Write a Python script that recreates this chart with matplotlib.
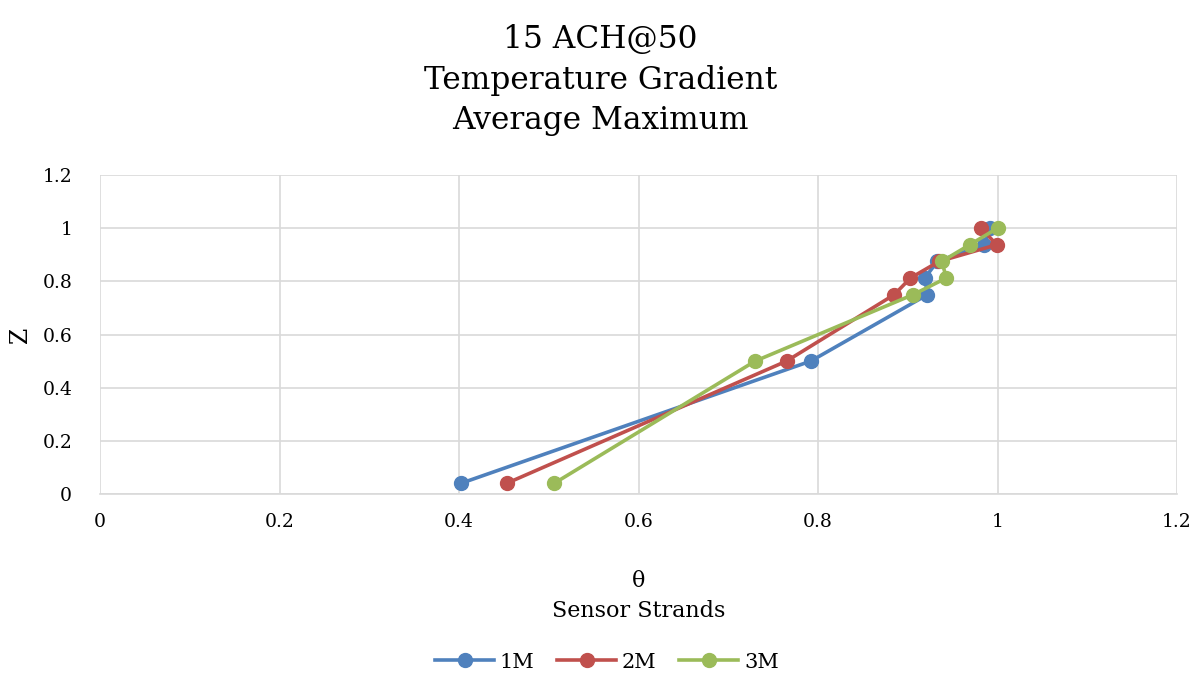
import matplotlib.pyplot as plt

# Average maximum temperature gradient, theta vs. height z
z_1m = [0.04, 0.5, 0.75, 0.8125, 0.875, 0.9375, 1.0]
theta_1m = [0.402, 0.792, 0.922, 0.919, 0.933, 0.985, 0.992]

z_2m = [0.04, 0.5, 0.75, 0.8125, 0.875, 0.9375, 1.0]
theta_2m = [0.453, 0.765, 0.885, 0.903, 0.935, 0.999, 0.982]

z_3m = [0.04, 0.5, 0.75, 0.8125, 0.875, 0.9375, 1.0]
theta_3m = [0.506, 0.730, 0.906, 0.943, 0.938, 0.969, 1.0]

series = [
    ('1M', theta_1m, z_1m, '#4F81BD'),
    ('2M', theta_2m, z_2m, '#C0504D'),
    ('3M', theta_3m, z_3m, '#9BBB59'),
]

plt.rcParams['font.family'] = ['DejaVu Serif']

fig = plt.figure(figsize=(12.01, 6.88), dpi=100)
ax = fig.add_axes([100 / 1201, 1 - 494 / 688, 1077 / 1201, 319 / 688])

for name, x, y, c in series:
    ax.plot(x, y, color=c, lw=2.6, marker='o', ms=10, label=name)

ax.set_xlim(0, 1.2)
ax.set_ylim(0, 1.2)
ticks = [0, 0.2, 0.4, 0.6, 0.8, 1, 1.2]
labels = ['0', '0.2', '0.4', '0.6', '0.8', '1', '1.2']
ax.set_xticks(ticks)
ax.set_yticks(ticks)
ax.set_xticklabels(labels, fontsize=13.5)
ax.set_yticklabels(labels, fontsize=13.5)
ax.tick_params(axis='x', length=0, pad=14)
ax.tick_params(axis='y', length=0, pad=20)
ax.grid(True, color='#D9D9D9', lw=1.2)
ax.set_axisbelow(True)
for s in ['top', 'right', 'left']:
    ax.spines[s].set_visible(False)
ax.spines['bottom'].set_color('#D9D9D9')
ax.spines['bottom'].set_linewidth(1.2)

ax.set_xlabel('θ\nSensor Strands', fontsize=16, linespacing=1.45)
ax.xaxis.set_label_coords(0.5, (494 - 570) / 319)
ax.xaxis.label.set_va('top')
ax.set_ylabel('Z', fontsize=17)
ax.yaxis.set_label_coords((32 - 100) / 1077, 0.5)

fig.text(0.5, 1 - 80 / 688, '15 ACH@50\nTemperature Gradient\nAverage Maximum',
         ha='center', va='center', fontsize=22.5, linespacing=1.4)

ax.legend(loc='center', bbox_to_anchor=((607 - 100) / 1077, (494 - 662) / 319),
          ncol=3, frameon=False, fontsize=15, handlelength=2.8,
          columnspacing=1.1, handletextpad=0.3)

fig.savefig('out.png', dpi=100)
